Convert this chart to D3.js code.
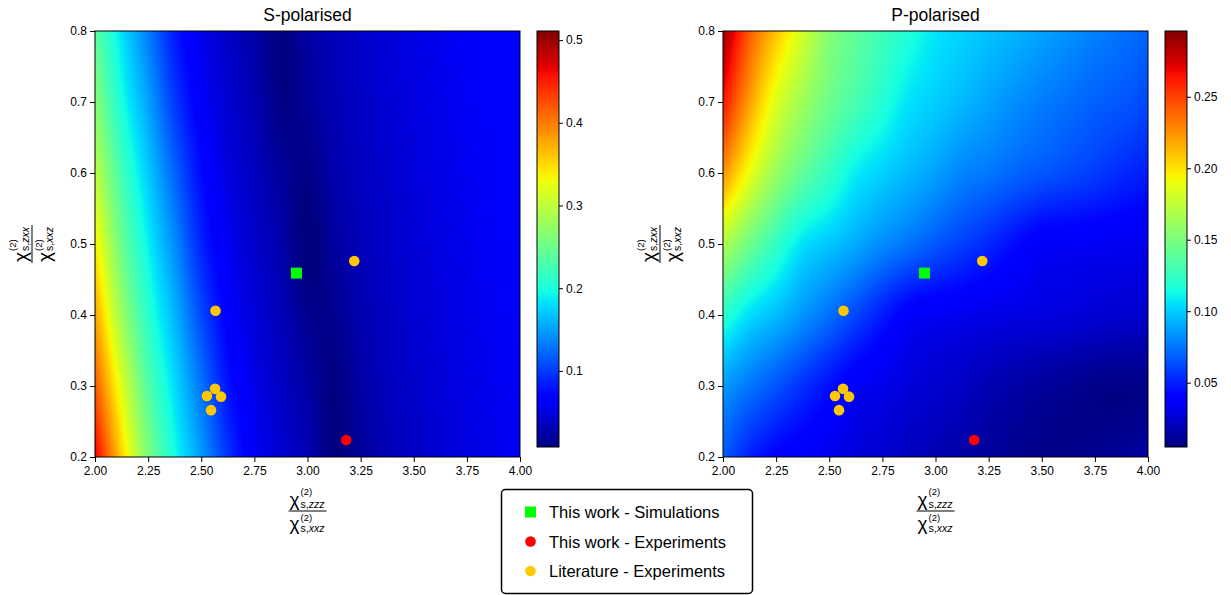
<!DOCTYPE html>
<html lang="en">
<head>
<meta charset="utf-8">
<title>S- and P-polarised</title>
<style>
  body { margin: 0; background: #fff; }
  text { font-family: "Liberation Sans", Arial, Helvetica, sans-serif; fill: #000; }
  .axis line, .axis path { stroke: #000; }
  .axis text { font-size: 12px; }
</style>
<script src="https://d3js.org/d3.v7.min.js"></script>
</head>
<body>
<script>
// grid nodes of the two maps (rows run from top y=0.8 down to y=0.2)
var xGrid = [2.000, 2.125, 2.250, 2.375, 2.500, 2.625, 2.750, 2.875, 3.000, 3.125, 3.250, 3.375, 3.500, 3.625, 3.750, 3.875, 4.000];
var yGrid = [0.8, 0.7, 0.6, 0.5, 0.4, 0.3, 0.2];

var sPol = [
  [0.240, 0.182, 0.132, 0.083, 0.055, 0.039, 0.025, 0.008, 0.023, 0.034, 0.041, 0.047, 0.052, 0.057, 0.062, 0.066, 0.070],
  [0.267, 0.200, 0.151, 0.099, 0.063, 0.044, 0.030, 0.011, 0.018, 0.031, 0.038, 0.045, 0.050, 0.055, 0.060, 0.064, 0.068],
  [0.300, 0.225, 0.171, 0.120, 0.075, 0.050, 0.036, 0.020, 0.011, 0.027, 0.036, 0.042, 0.048, 0.053, 0.058, 0.063, 0.066],
  [0.340, 0.250, 0.190, 0.140, 0.088, 0.058, 0.041, 0.027, 0.005, 0.021, 0.033, 0.040, 0.046, 0.051, 0.056, 0.061, 0.065],
  [0.380, 0.280, 0.210, 0.160, 0.107, 0.067, 0.047, 0.033, 0.015, 0.015, 0.029, 0.037, 0.044, 0.049, 0.054, 0.059, 0.063],
  [0.420, 0.320, 0.235, 0.180, 0.128, 0.080, 0.054, 0.038, 0.024, 0.009, 0.024, 0.035, 0.041, 0.047, 0.052, 0.057, 0.062],
  [0.470, 0.355, 0.262, 0.198, 0.148, 0.096, 0.061, 0.044, 0.030, 0.009, 0.019, 0.031, 0.038, 0.045, 0.050, 0.055, 0.060]
];

var pPol = [
  [0.290, 0.243, 0.210, 0.181, 0.154, 0.141, 0.129, 0.118, 0.107, 0.102, 0.097, 0.093, 0.088, 0.083, 0.078, 0.074, 0.070],
  [0.264, 0.221, 0.185, 0.163, 0.145, 0.132, 0.119, 0.106, 0.100, 0.094, 0.088, 0.082, 0.077, 0.073, 0.069, 0.066, 0.062],
  [0.225, 0.189, 0.161, 0.141, 0.125, 0.109, 0.101, 0.094, 0.087, 0.079, 0.075, 0.070, 0.066, 0.062, 0.058, 0.053, 0.049],
  [0.170, 0.146, 0.125, 0.106, 0.098, 0.090, 0.081, 0.074, 0.066, 0.059, 0.052, 0.044, 0.037, 0.036, 0.035, 0.034, 0.033],
  [0.122, 0.105, 0.095, 0.084, 0.073, 0.061, 0.049, 0.038, 0.035, 0.033, 0.031, 0.030, 0.029, 0.028, 0.026, 0.025, 0.024],
  [0.086, 0.075, 0.065, 0.055, 0.045, 0.036, 0.032, 0.028, 0.025, 0.022, 0.018, 0.015, 0.012, 0.010, 0.008, 0.007, 0.008],
  [0.067, 0.050, 0.040, 0.035, 0.032, 0.028, 0.025, 0.021, 0.018, 0.015, 0.012, 0.009, 0.007, 0.007, 0.009, 0.011, 0.014]
];

var xTicks = [2.00, 2.25, 2.50, 2.75, 3.00, 3.25, 3.50, 3.75, 4.00];
var yTicks = [0.2, 0.3, 0.4, 0.5, 0.6, 0.7, 0.8];
var sTicks = [0.1, 0.2, 0.3, 0.4, 0.5];
var pTicks = [0.05, 0.10, 0.15, 0.20, 0.25];
var sLimits = [0.008, 0.511];
var pLimits = [0.005, 0.296];

var simX = [2.948], simY = [0.459];
var expX = [3.182], expY = [0.224];
var litX = [3.220, 2.567, 2.565, 2.527, 2.593, 2.546];
var litY = [0.476, 0.406, 0.296, 0.286, 0.285, 0.266];
var legendLabels = ["This work - Simulations", "This work - Experiments", "Literature - Experiments"];
var markerColors = ["#00ff00", "#ff0000", "#ffc800"];

// matplotlib "jet"
var jetStops = [0, 0.11, 0.125, 0.34, 0.35, 0.375, 0.64, 0.65, 0.66, 0.89, 0.91, 1];
var jetR = d3.scaleLinear().domain([0, 0.35, 0.66, 0.89, 1]).range([0, 0, 1, 1, 0.5]).clamp(true);
var jetG = d3.scaleLinear().domain([0, 0.125, 0.375, 0.64, 0.91, 1]).range([0, 0, 1, 1, 0, 0]).clamp(true);
var jetB = d3.scaleLinear().domain([0, 0.11, 0.34, 0.65, 1]).range([0.5, 1, 1, 0, 0]).clamp(true);
function jet(t) {
  return d3.rgb(Math.round(255 * jetR(t)), Math.round(255 * jetG(t)), Math.round(255 * jetB(t))).formatHex();
}

var w = 1231, h = 595;
var svg = d3.select("body").append("svg").attr("width", w).attr("height", h);
var defs = svg.append("defs");

// bicubic lookup in the grid, like imshow(interpolation="bicubic")
function cubic(p0, p1, p2, p3, t) {
  return p1 + 0.5 * t * (p2 - p0 + t * (2 * p0 - 5 * p1 + 4 * p2 - p3 + t * (3 * (p1 - p2) + p3 - p0)));
}
function gridAt(vals, r, c) {
  var nr = vals.length, nc = vals[0].length;
  if (r < 0) return 2 * gridAt(vals, 0, c) - gridAt(vals, 1, c);
  if (r > nr - 1) return 2 * gridAt(vals, nr - 1, c) - gridAt(vals, nr - 2, c);
  if (c < 0) return 2 * vals[r][0] - vals[r][1];
  if (c > nc - 1) return 2 * vals[r][nc - 1] - vals[r][nc - 2];
  return vals[r][c];
}
function sampleGrid(vals, u, v) {
  var i = Math.min(Math.max(Math.floor(u), 0), vals[0].length - 2);
  var j = Math.min(Math.max(Math.floor(v), 0), vals.length - 2);
  var tu = u - i, tv = v - j, col = [];
  for (var k = -1; k <= 2; k++) {
    col.push(cubic(gridAt(vals, j + k, i - 1), gridAt(vals, j + k, i), gridAt(vals, j + k, i + 1), gridAt(vals, j + k, i + 2), tu));
  }
  return cubic(col[0], col[1], col[2], col[3], tv);
}

function addFraction(g, numSub, denSub) {
  g.append("line").attr("x1", -19).attr("x2", 19).attr("y1", 0).attr("y2", 0)
    .attr("stroke", "#000").attr("stroke-width", 1);
  // [subscript, baseline of chi, superscript rise]
  [[numSub, -5, 11], [denSub, 19, 9]].forEach(function(p) {
    g.append("text").attr("x", -18).attr("y", p[1]).style("font-size", "19px").text("χ");
    g.append("text").attr("x", -7).attr("y", p[1] - p[2]).style("font-size", "9.5px").text("(2)");
    var t = g.append("text").attr("x", -7).attr("y", p[1] + 2).style("font-size", "10.5px");
    t.append("tspan").text("s,");
    t.append("tspan").style("font-style", "italic").text(p[0]);
  });
}

function drawPanel(opt) {
  var x = d3.scaleLinear().domain([2, 4]).range([opt.left, opt.left + 425]);
  var y = d3.scaleLinear().domain([0.2, 0.8]).range([457, 31]);
  var norm = d3.scaleLinear().domain(opt.limits).range([0, 1]);
  var gx = d3.scaleLinear().domain([xGrid[0], xGrid[xGrid.length - 1]]).range([0, xGrid.length - 1]);
  var gy = d3.scaleLinear().domain([yGrid[0], yGrid[yGrid.length - 1]]).range([0, yGrid.length - 1]);
  var g = svg.append("g");

  // heat map drawn pixel by pixel into a canvas
  var pw = Math.round(x(4) - x(2)), ph = Math.round(y(0.2) - y(0.8));
  var canvas = document.createElement("canvas");
  canvas.width = pw;
  canvas.height = ph;
  var ctx = canvas.getContext("2d");
  var img = ctx.createImageData(pw, ph);
  for (var py = 0; py < ph; py++) {
    var v = gy(y.invert(y(0.8) + py + 0.5));
    for (var px = 0; px < pw; px++) {
      var u = gx(x.invert(x(2) + px + 0.5));
      var col = d3.rgb(jet(norm(sampleGrid(opt.values, u, v))));
      var k = 4 * (py * pw + px);
      img.data[k] = col.r; img.data[k + 1] = col.g; img.data[k + 2] = col.b; img.data[k + 3] = 255;
    }
  }
  ctx.putImageData(img, 0, 0);
  g.append("image")
    .attr("href", canvas.toDataURL())
    .attr("preserveAspectRatio", "none")
    .attr("x", x(2)).attr("y", y(0.8))
    .attr("width", pw).attr("height", ph);

  // markers
  g.selectAll(".lit").data(litX).enter().append("circle")
    .attr("cx", function(d) { return x(d); })
    .attr("cy", function(d, i) { return y(litY[i]); })
    .attr("r", 5.3).attr("fill", markerColors[2]);
  g.selectAll(".sim").data(simX).enter().append("rect")
    .attr("x", function(d) { return x(d) - 5.5; })
    .attr("y", function(d, i) { return y(simY[i]) - 5.5; })
    .attr("width", 11).attr("height", 11).attr("fill", markerColors[0]);
  g.selectAll(".exp").data(expX).enter().append("circle")
    .attr("cx", function(d) { return x(d); })
    .attr("cy", function(d, i) { return y(expY[i]); })
    .attr("r", 5.3).attr("fill", markerColors[1]);

  g.append("rect").attr("x", x(2)).attr("y", y(0.8))
    .attr("width", x(4) - x(2)).attr("height", y(0.2) - y(0.8))
    .attr("fill", "none").attr("stroke", "#000").attr("stroke-width", 1);

  g.append("g").attr("class", "axis").attr("transform", "translate(0," + y(0.2) + ")")
    .call(d3.axisBottom(x).tickValues(xTicks).tickFormat(d3.format(".2f")).tickSize(5).tickSizeOuter(0).tickPadding(4))
    .select(".domain").remove();
  g.append("g").attr("class", "axis").attr("transform", "translate(" + x(2) + ",0)")
    .call(d3.axisLeft(y).tickValues(yTicks).tickFormat(d3.format(".1f")).tickSize(5).tickSizeOuter(0).tickPadding(3))
    .select(".domain").remove();

  g.append("text").attr("x", (x(2) + x(4)) / 2).attr("y", 21)
    .attr("text-anchor", "middle").style("font-size", "17.5px").text(opt.title);

  addFraction(g.append("g").attr("transform", "translate(" + ((x(2) + x(4)) / 2) + ",511)"), "zzz", "xxz");
  addFraction(g.append("g").attr("transform", "translate(" + (opt.left - 63) + ",244) rotate(-90)"), "zxx", "xxz");

  // colour bar
  var cbX = opt.left + 442, cbW = 22;
  var c = d3.scaleLinear().domain(opt.limits).range([447, 31]);
  var grad = defs.append("linearGradient").attr("id", "grad" + opt.id)
    .attr("x1", 0).attr("y1", 1).attr("x2", 0).attr("y2", 0);
  grad.selectAll("stop").data(jetStops).enter().append("stop")
    .attr("offset", function(d) { return d; })
    .attr("stop-color", function(d) { return jet(d); });
  g.append("rect").attr("x", cbX).attr("y", c(opt.limits[1]))
    .attr("width", cbW).attr("height", c(opt.limits[0]) - c(opt.limits[1]))
    .attr("fill", "url(#grad" + opt.id + ")").attr("stroke", "#000").attr("stroke-width", 1);
  g.append("g").attr("class", "axis").attr("transform", "translate(" + (cbX + cbW) + ",0)")
    .call(d3.axisRight(c).tickValues(opt.ticks).tickFormat(d3.format(opt.fmt)).tickSize(4).tickSizeOuter(0).tickPadding(3))
    .select(".domain").remove();
}

drawPanel({ id: "s", left: 95, title: "S-polarised", values: sPol, limits: sLimits, ticks: sTicks, fmt: ".1f" });
drawPanel({ id: "p", left: 723, title: "P-polarised", values: pPol, limits: pLimits, ticks: pTicks, fmt: ".2f" });

// legend
var leg = svg.append("g");
leg.append("rect").attr("x", 501.5).attr("y", 489.5).attr("width", 251).attr("height", 104)
  .attr("rx", 4).attr("fill", "#fff").attr("stroke", "#000").attr("stroke-width", 1.5);
legendLabels.forEach(function(label, i) {
  var cy = 512 + i * 29.5;
  if (i == 0) {
    leg.append("rect").attr("x", 525).attr("y", cy - 5.5).attr("width", 11).attr("height", 11).attr("fill", markerColors[i]);
  } else {
    leg.append("circle").attr("cx", 530.5).attr("cy", cy).attr("r", 5.3).attr("fill", markerColors[i]);
  }
  leg.append("text").attr("x", 549).attr("y", cy + 6).style("font-size", "16.5px").text(label);
});
</script>
</body>
</html>
